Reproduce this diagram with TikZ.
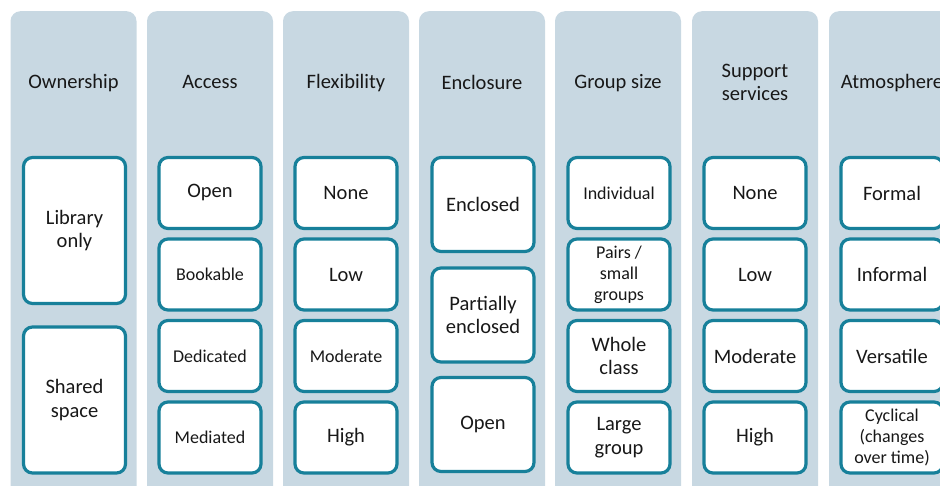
\documentclass[tikz,border=0pt]{standalone}
\usepackage{fontspec}
\setmainfont{Carlito}
\definecolor{colFill}{HTML}{C8D8E2}
\definecolor{boxLine}{HTML}{17809A}
\definecolor{txtDark}{HTML}{181818}
\usetikzlibrary{positioning}

\begin{document}
\begin{tikzpicture}[x=1pt, y=-1pt,
  column/.style={rounded corners=10pt, fill=colFill, minimum width=126pt,
    minimum height=500pt, anchor=north},
  heading/.style={text=txtDark, align=center, font=\fontsize{20.5}{23.5}\selectfont},
  choice/.style={rounded corners=9pt, draw=boxLine, line width=3.2pt, fill=white,
    text=txtDark, minimum width=102pt, inner sep=2pt, align=center,
    font=\fontsize{20.5}{23.5}\selectfont},
  smalltext/.style={font=\fontsize{18}{21}\selectfont},
  quarter/.style={choice, minimum height=71pt},
  third/.style={choice, minimum height=94pt},
  half/.style={choice, minimum height=146pt}
]
  \clip (0,0) rectangle (940,486);
  \useasboundingbox (0,0) rectangle (940,486);

  % Columns
  \node[column] (ownCol) at (73.5,11) {};
  \node[column] (accCol) at (210,11) {};
  \node[column] (flexCol) at (346,11) {};
  \node[column] (enclCol) at (482,11) {};
  \node[column] (grpCol) at (618,11) {};
  \node[column] (supCol) at (755,11) {};
  \node[column] (atmCol) at (892,11) {};

  % Headings
  \node[heading] (own) at (73.5,83) {Ownership};
  \node[heading] (acc) at (210,82.5) {Access};
  \node[heading] (flex) at (346,83) {Flexibility};
  \node[heading] (encl) at (482,82.5) {Enclosure};
  \node[heading] (grp) at (618,83) {Group size};
  \node[heading] (sup) at (755,82.5) {Support\\services};
  \node[heading] (atm) at (892,83) {Atmosphere};

  % Ownership
  \node[half] (own1) at (74.5,230.5) {Library\\only};
  \node[half] (own2) at (74.5,400) {Shared\\space};

  % Access
  \node[quarter] (acc1) at (210,193) {Open};
  \node[quarter, smalltext] (acc2) at (210,274.5) {Bookable};
  \node[quarter, smalltext] (acc3) at (210,356) {Dedicated};
  \node[quarter, smalltext] (acc4) at (210,437.5) {Mediated};

  % Flexibility
  \node[quarter] (flex1) at (346,193) {None};
  \node[quarter] (flex2) at (346,274.5) {Low};
  \node[quarter, smalltext] (flex3) at (346,356) {Moderate};
  \node[quarter] (flex4) at (346,437.5) {High};

  % Enclosure
  \node[third] (encl1) at (483,204.5) {Enclosed};
  \node[third] (encl2) at (483,315) {Partially\\enclosed};
  \node[third] (encl3) at (483,424.5) {Open};

  % Group size
  \node[quarter, smalltext] (grp1) at (619,193) {Individual};
  \node[quarter, smalltext] (grp2) at (619,274.5) {Pairs /\\small\\groups};
  \node[quarter] (grp3) at (619,356) {Whole\\class};
  \node[quarter] (grp4) at (619,437.5) {Large\\group};

  % Support services
  \node[quarter] (sup1) at (755,193) {None};
  \node[quarter] (sup2) at (755,274.5) {Low};
  \node[quarter] (sup3) at (755,356) {Moderate};
  \node[quarter] (sup4) at (755,437.5) {High};

  % Atmosphere
  \node[quarter] (atm1) at (892,193) {Formal};
  \node[quarter] (atm2) at (892,274.5) {Informal};
  \node[quarter] (atm3) at (892,356) {Versatile};
  \node[quarter, smalltext] (atm4) at (892,437.5) {Cyclical\\(changes\\over time)};
\end{tikzpicture}
\end{document}
